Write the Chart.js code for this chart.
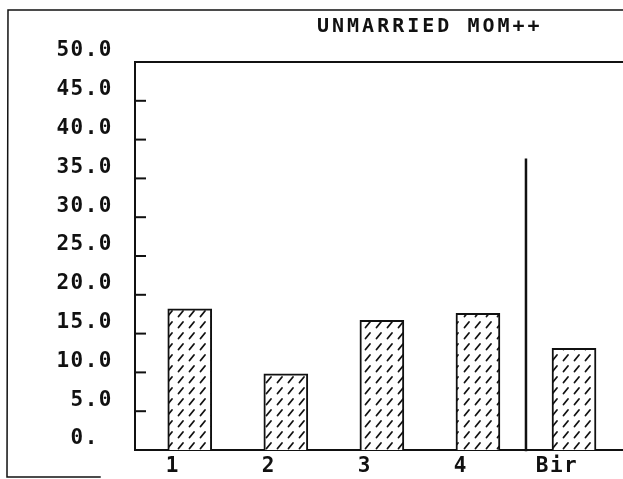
<!DOCTYPE html>
<html lang="en">
<head>
<meta charset="UTF-8">
<title>Unmarried mom</title>
<script src="https://cdn.jsdelivr.net/npm/chart.js"></script>
<style>
  body { margin: 0; background: #fff; }
  canvas { display: block; }
</style>
</head>
<body>
<canvas id="chart" width="623" height="479"></canvas>
<script>
// values
const categories = ['1', '2', '3', '4', 'Bir'];
const percents = [18.2, 9.8, 16.7, 17.6, 13.1];
const dividerValue = 37.4;   // the tall line between 4 and Bir
const dividerAt = 4.5;
const yTickLabels = ['0. ', '5.0', '10.0', '15.0', '20.0', '25.0', '30.0', '35.0', '40.0', '45.0', '50.0'];
const titleText = 'UNMARRIED MOM++';

const ink = '#111';
const monoFont = 'DejaVu Sans Mono';

// hatch: short "/" dashes
function makeHatch() {
  const c = document.createElement('canvas');
  c.width = 11; c.height = 11;
  const g = c.getContext('2d');
  g.fillStyle = '#fff';
  g.fillRect(0, 0, 11, 11);
  g.strokeStyle = ink;
  g.lineWidth = 1.8;
  g.lineCap = 'round';
  g.beginPath();
  g.moveTo(2.5, 8.5);
  g.lineTo(7, 3);
  g.stroke();
  return g.createPattern(c, 'repeat');
}

const spacing = {
  id: 'spacing',
  beforeUpdate(chart) { chart.ctx.letterSpacing = '1.5px'; },
  beforeDraw(chart) { chart.ctx.letterSpacing = '1.5px'; }
};

const frame = {
  id: 'frame',
  afterDraw(chart) {
    const ctx = chart.ctx;
    const area = chart.chartArea;
    const y = chart.scales.y;
    const x = chart.scales.x;
    ctx.save();
    ctx.strokeStyle = ink;
    ctx.lineCap = 'square';

    // outer border
    ctx.lineWidth = 1.5;
    ctx.beginPath();
    ctx.moveTo(623, 10); ctx.lineTo(8, 10); ctx.lineTo(7, 477); ctx.lineTo(100, 477);
    ctx.stroke();

    // plot box top
    ctx.lineWidth = 2;
    ctx.beginPath();
    ctx.moveTo(area.left, area.top); ctx.lineTo(area.right, area.top);
    ctx.stroke();

    // inner tick marks on the y axis
    for (let v = 5; v < 50; v += 5) {
      const py = y.getPixelForValue(v);
      ctx.beginPath();
      ctx.moveTo(area.left, py); ctx.lineTo(area.left + 10, py);
      ctx.stroke();
    }

    // divider line
    const px = x.getPixelForValue(dividerAt);
    ctx.lineWidth = 2.5;
    ctx.beginPath();
    ctx.moveTo(px, y.getPixelForValue(0));
    ctx.lineTo(px, y.getPixelForValue(dividerValue));
    ctx.stroke();

    // title
    ctx.letterSpacing = '3px';
    ctx.fillStyle = ink;
    ctx.font = 'bold 20px "' + monoFont + '"';
    ctx.textAlign = 'left';
    ctx.textBaseline = 'alphabetic';
    ctx.fillText(titleText, 317, 32);
    ctx.restore();
  }
};

new Chart(document.getElementById('chart'), {
  type: 'bar',
  data: {
    datasets: [{
      data: categories.map((c, i) => ({ x: i + 1, y: percents[i] })),
      backgroundColor: makeHatch(),
      borderColor: ink,
      borderWidth: 2,
      barThickness: 44
    }]
  },
  options: {
    responsive: false,
    animation: false,
    layout: { padding: { top: 62, left: 0, right: 0, bottom: 0 } },
    plugins: { legend: { display: false }, tooltip: { enabled: false } },
    scales: {
      x: {
        type: 'linear',
        offset: false,
        min: 0.43,
        max: 5.51,
        grid: { display: false, drawTicks: false, offset: false },
        border: { display: true, color: ink, width: 2 },
        afterFit(s) { s.height = 29; s.paddingLeft = 0; s.paddingRight = 0; },
        ticks: {
          stepSize: 1,
          includeBounds: false,
          color: ink,
          padding: 4,
          labelOffset: -17,
          font: { family: monoFont, size: 21, weight: 'bold' },
          callback: (v) => Number.isInteger(v) ? (categories[v - 1] || '') : ''
        }
      },
      y: {
        min: 0,
        max: 50,
        grid: { display: false, drawTicks: false },
        border: { display: true, color: ink, width: 2 },
        afterFit(s) { s.width = 135; s.paddingTop = 0; s.paddingBottom = 0; },
        ticks: {
          stepSize: 5,
          color: ink,
          padding: 22,
          labelOffset: -11,
          font: { family: monoFont, size: 21, weight: 'bold' },
          callback: (v) => yTickLabels[Math.round(v / 5)]
        }
      }
    }
  },
  plugins: [spacing, frame]
});
</script>
</body>
</html>
